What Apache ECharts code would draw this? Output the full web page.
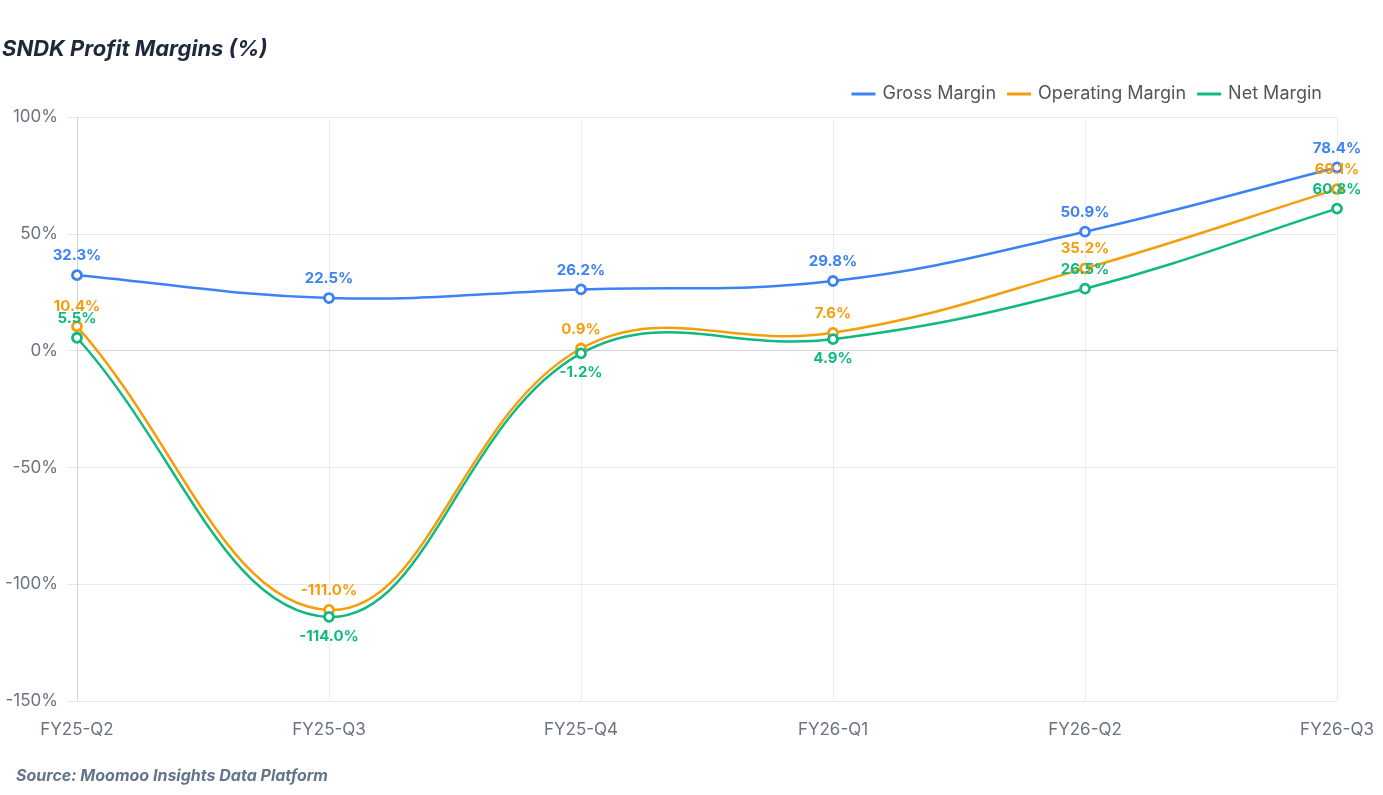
<!DOCTYPE html>
<html>
<head>
<meta charset="utf-8">
<script src="https://cdn.jsdelivr.net/npm/echarts@6/dist/echarts.min.js"></script>
<style>
  html, body { margin: 0; padding: 0; background: #fff; }
  #main { width: 1383px; height: 795px; }
</style>
</head>
<body>
<div id="main"></div>
<script>
// 季度
var quarters = ['FY25-Q2', 'FY25-Q3', 'FY25-Q4', 'FY26-Q1', 'FY26-Q2', 'FY26-Q3'];
// 毛利率 / 营业利润率 / 净利率 (%)
var grossMargin = [32.3, 22.5, 26.2, 29.8, 50.9, 78.4];
var operatingMargin = [10.4, -111.0, 0.9, 7.6, 35.2, 69.1];
var netMargin = [5.5, -114.0, -1.2, 4.9, 26.5, 60.8];
// 净利率标签位置
var netLabelPos = ['top', 'bottom', 'bottom', 'bottom', 'top', 'top'];

var fontFam = 'Inter, "Noto Sans", sans-serif';
var colors = { gross: '#3b82f6', op: '#f59e0b', net: '#10b981' };
var TENSION = 0.4;

// 样条控制点 (与 tension 曲线相同的算法)
function ctrlPoints(prev, cur, next) {
  var d01 = Math.hypot(cur[0] - prev[0], cur[1] - prev[1]);
  var d12 = Math.hypot(next[0] - cur[0], next[1] - cur[1]);
  var s01 = d01 / (d01 + d12 || 1);
  var s12 = d12 / (d01 + d12 || 1);
  var fa = TENSION * s01, fb = TENSION * s12;
  return {
    prev: [cur[0] - fa * (next[0] - prev[0]), cur[1] - fa * (next[1] - prev[1])],
    next: [cur[0] + fb * (next[0] - prev[0]), cur[1] + fb * (next[1] - prev[1])]
  };
}

// 曲线
function curveSeries(values, color) {
  var n = values.length;
  return {
    type: 'custom',
    z: 1,
    silent: true,
    coordinateSystem: 'cartesian2d',
    encode: { x: 0, y: 1 },
    data: values.map(function (v, i) { return [i, v]; }),
    renderItem: function (params, api) {
      var i = params.dataIndex;
      if (i >= n - 1) return null;
      var pt = function (j) { return api.coord([j, values[j]]); };
      var p0 = pt(Math.max(i - 1, 0)), p1 = pt(i), p2 = pt(i + 1), p3 = pt(Math.min(i + 2, n - 1));
      var c1 = ctrlPoints(p0, p1, p2).next;
      var c2 = ctrlPoints(p1, p2, p3).prev;
      return {
        type: 'bezierCurve',
        shape: { x1: p1[0], y1: p1[1], x2: p2[0], y2: p2[1], cpx1: c1[0], cpy1: c1[1], cpx2: c2[0], cpy2: c2[1] },
        style: { stroke: color, lineWidth: 2.5, fill: null }
      };
    }
  };
}

// 点和标签
function pointSeries(name, color, values, positions) {
  return {
    name: name,
    type: 'line',
    z: 3,
    symbol: 'circle',
    symbolSize: 9,
    showAllSymbol: true,
    lineStyle: { width: 0, opacity: 0 },
    itemStyle: { color: '#fff', borderColor: color, borderWidth: 2.8 },
    label: {
      show: true,
      position: 'top',
      distance: 6,
      color: color,
      fontFamily: fontFam,
      fontWeight: 'bold',
      fontSize: 15,
      formatter: function (p) { return p.value.toFixed(1) + '%'; }
    },
    data: values.map(function (v, i) {
      var d = { value: v };
      if (positions) d.label = { position: positions[i] };
      return d;
    })
  };
}

var myChart = echarts.init(document.getElementById('main'));
myChart.setOption({
  animation: false,
  textStyle: { fontFamily: fontFam },
  title: [
    {
      text: 'SNDK Profit Margins (%)',
      left: 2,
      top: 38,
      padding: 0,
      textStyle: { fontFamily: fontFam, fontSize: 22, fontWeight: 'bold', fontStyle: 'italic', color: '#1e293b' }
    },
    {
      text: 'Source: Moomoo Insights Data Platform',
      left: 16,
      top: 768,
      padding: 0,
      textStyle: { fontFamily: fontFam, fontSize: 16, fontWeight: 'bold', fontStyle: 'italic', color: '#64748b' }
    }
  ],
  legend: {
    right: 61,
    top: 85,
    padding: 0,
    itemWidth: 24,
    itemHeight: 3,
    itemGap: 11,
    textStyle: { fontFamily: fontFam, fontSize: 18, color: '#555', padding: [0, 0, 0, 2] },
    data: [
      { name: 'Gross Margin', icon: 'rect', itemStyle: { color: colors.gross, borderWidth: 0 } },
      { name: 'Operating Margin', icon: 'rect', itemStyle: { color: colors.op, borderWidth: 0 } },
      { name: 'Net Margin', icon: 'rect', itemStyle: { color: colors.net, borderWidth: 0 } }
    ]
  },
  grid: { left: 77, right: 46, top: 117, bottom: 94 },
  xAxis: {
    type: 'category',
    boundaryGap: false,
    data: quarters,
    axisLine: { show: true, lineStyle: { color: '#d1d5db' } },
    axisTick: { show: false },
    axisLabel: { color: '#6b7280', fontSize: 17, margin: 20, fontFamily: fontFam, interval: 0 },
    splitLine: { show: true, lineStyle: { color: '#ececec' } }
  },
  yAxis: {
    type: 'value',
    min: -150,
    max: 100,
    interval: 50,
    axisLine: { show: true, lineStyle: { color: '#d1d5db' } },
    axisTick: { show: true, length: 10, lineStyle: { color: '#e5e7eb' } },
    axisLabel: { color: '#6b7280', fontSize: 17, margin: 19, fontFamily: fontFam, formatter: '{value}%' },
    splitLine: { show: true, lineStyle: { color: '#e5e7eb' } }
  },
  series: [
    curveSeries(grossMargin, colors.gross),
    curveSeries(operatingMargin, colors.op),
    curveSeries(netMargin, colors.net),
    pointSeries('Gross Margin', colors.gross, grossMargin),
    pointSeries('Operating Margin', colors.op, operatingMargin),
    pointSeries('Net Margin', colors.net, netMargin, netLabelPos)
  ]
});
</script>
</body>
</html>
